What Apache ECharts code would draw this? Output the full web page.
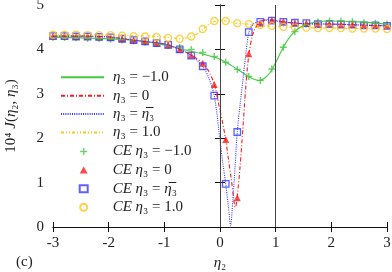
<!DOCTYPE html>
<html>
<head>
<meta charset="utf-8">
<script src="https://cdn.jsdelivr.net/npm/echarts@6/dist/echarts.min.js"></script>
<style>html,body{margin:0;padding:0;background:#fff}#c{width:392px;height:272px}</style>
</head>
<body>
<div id="c"></div>
<script>
// CE sample positions (eta2)
const ceX = [-3, -2.793, -2.586, -2.379, -2.172, -1.966, -1.759, -1.552, -1.345, -1.138, -0.931, -0.724, -0.517, -0.310, -0.103, 0.103, 0.310, 0.517, 0.724, 0.931, 1.138, 1.345, 1.552, 1.759, 1.966, 2.172, 2.379, 2.586, 2.793, 3];
const ceGreen  = [4.27, 4.27, 4.26, 4.25, 4.24, 4.23, 4.21, 4.19, 4.16, 4.13, 4.09, 4.04, 4.00, 3.93, 3.84, 3.71, 3.55, 3.39, 3.30, 3.56, 4.05, 4.40, 4.57, 4.62, 4.64, 4.64, 4.62, 4.60, 4.59, 4.57];
const ceRed    = [4.30, 4.30, 4.29, 4.29, 4.28, 4.27, 4.24, 4.21, 4.18, 4.14, 4.10, 4.00, 3.87, 3.69, 3.21, 1.97, 0.66, 3.90, 4.59, 4.66, 4.63, 4.60, 4.59, 4.57, 4.57, 4.56, 4.56, 4.54, 4.54, 4.53];
const ceBlue   = [4.30, 4.30, 4.29, 4.29, 4.28, 4.27, 4.24, 4.21, 4.18, 4.14, 4.10, 4.00, 3.86, 3.62, 2.96, 0.97, 2.14, 4.39, 4.62, 4.65, 4.62, 4.60, 4.59, 4.57, 4.57, 4.56, 4.56, 4.54, 4.54, 4.53];
const ceYellow = [4.33, 4.33, 4.33, 4.32, 4.32, 4.32, 4.31, 4.30, 4.29, 4.28, 4.26, 4.24, 4.29, 4.46, 4.64, 4.64, 4.59, 4.57, 4.55, 4.53, 4.51, 4.50, 4.49, 4.48, 4.48, 4.48, 4.47, 4.47, 4.47, 4.46];

// theory curves
const greenX = [-3, -2.5, -2, -1.5, -1, -0.6, -0.3, 0, 0.2, 0.4, 0.55, 0.7, 0.8, 0.9, 1.0, 1.1, 1.2, 1.3, 1.4, 1.5, 1.7, 2, 2.5, 3];
const greenY = [4.27, 4.26, 4.24, 4.20, 4.10, 3.98, 3.89, 3.78, 3.64, 3.48, 3.36, 3.30, 3.35, 3.48, 3.70, 3.96, 4.18, 4.35, 4.46, 4.54, 4.61, 4.64, 4.62, 4.57];
const redX = [-3, -2.5, -2, -1.5, -1, -0.7, -0.5, -0.3, -0.2, -0.1, 0, 0.05, 0.1, 0.15, 0.2, 0.25, 0.27, 0.29, 0.31, 0.36, 0.41, 0.46, 0.52, 0.6, 0.7, 0.8, 0.9, 1.0, 1.2, 1.5, 2, 2.5, 3];
const redY = [4.30, 4.30, 4.28, 4.20, 4.12, 3.99, 3.86, 3.68, 3.50, 3.21, 2.62, 2.33, 1.98, 1.54, 1.10, 0.60, 0.44, 0.50, 0.68, 1.35, 2.20, 3.10, 3.90, 4.38, 4.60, 4.66, 4.67, 4.65, 4.61, 4.58, 4.57, 4.55, 4.53];
const blueX = [-3, -2.5, -2, -1.5, -1, -0.7, -0.5, -0.3, -0.2, -0.1, 0, 0.05, 0.1, 0.15, 0.19, 0.23, 0.27, 0.31, 0.36, 0.41, 0.46, 0.52, 0.6, 0.7, 0.8, 0.9, 1.0, 1.2, 1.5, 2, 2.5, 3];
const blueY = [4.30, 4.30, 4.28, 4.20, 4.12, 3.99, 3.85, 3.60, 3.35, 2.94, 1.95, 1.45, 1.00, 0.47, 0.03, 0.60, 1.35, 2.14, 2.75, 3.30, 3.85, 4.39, 4.57, 4.63, 4.66, 4.66, 4.64, 4.61, 4.58, 4.57, 4.55, 4.53];
const yellowX = [-3, -2.5, -2, -1.5, -1, -0.7, -0.5, -0.4, -0.3, -0.2, -0.1, 0, 0.1, 0.2, 0.3, 0.5, 0.7, 1.0, 1.5, 2, 2.5, 3];
const yellowY = [4.33, 4.33, 4.32, 4.31, 4.28, 4.24, 4.30, 4.36, 4.46, 4.56, 4.63, 4.66, 4.64, 4.61, 4.59, 4.57, 4.53, 4.52, 4.49, 4.48, 4.47, 4.46];

const xTicks = [-3, -2, -1, 0, 1, 2, 3];
const yTicks = [0, 1, 2, 3, 4, 5];
const vLines = [0, 1];

const C_GREEN = '#44c844', C_RED = '#ff1a1a', C_BLUE = '#3838ff', C_YEL = '#ffc61a';
const FONT = 'Liberation Serif';

const lineNames = ['l1','l2','l3','l4'];
const ceNames = ['c1','c2','c3','c4'];
const legendText = {
  l1: '{i|η}₃ = −1.0',
  l2: '{i|η}₃ = 0',
  l3: '{i|η}₃ = {i|η\u0305}₃',
  l4: '{i|η}₃ = 1.0',
  c1: '{i|CE η}₃ = −1.0',
  c2: '{i|CE η}₃ = 0',
  c3: '{i|CE η}₃ = {i|η\u0305}₃',
  c4: '{i|CE η}₃ = 1.0'
};
const zip = (xs, ys) => xs.map((x, i) => [x, ys[i]]);
const plus = 'path://M4,0h2v4h4v2h-4v4h-2v-4h-4v-2h4z';

const chart = echarts.init(document.getElementById('c'), null, {renderer: 'canvas'});
const axisCommon = {
  type: 'value',
  axisLine: {show: true, lineStyle: {color: '#111', width: 1}},
  axisTick: {show: true, inside: true, length: 5, lineStyle: {color: '#111'}},
  splitLine: {show: false}
};
const legText = {fontFamily: FONT, fontSize: 15, color: '#222', lineHeight: 16,
  rich: {i: {fontStyle: 'italic', fontFamily: FONT, fontSize: 15, lineHeight: 16}}};
chart.setOption({
  animation: false,
  backgroundColor: '#fff',
  grid: {left: 53, right: 5, top: 5, bottom: 45, containLabel: false, outerBoundsMode: 'none'},
  xAxis: [
    Object.assign({}, axisCommon, {min: xTicks[0], max: xTicks[xTicks.length-1], interval: 1, position: 'bottom',
      name: '{i|η}₂', nameLocation: 'middle', nameGap: 29,
      nameTextStyle: {fontFamily: FONT, fontSize: 15, color: '#222', rich: {i: {fontStyle: 'italic', fontFamily: FONT, fontSize: 15}}},
      axisLabel: {margin: 9, fontFamily: FONT, fontSize: 15, color: '#222'}}),
    Object.assign({}, axisCommon, {min: xTicks[0], max: xTicks[xTicks.length-1], interval: 1, position: 'top', axisLabel: {show: false}})
  ],
  yAxis: [
    Object.assign({}, axisCommon, {min: yTicks[0], max: yTicks[yTicks.length-1], interval: 1, position: 'left',
      name: '10⁴ {i|J}({i|η}₂, {i|η}₃)', nameLocation: 'middle', nameGap: 34, nameRotate: 90,
      nameTextStyle: {fontFamily: FONT, fontSize: 15, color: '#222', rich: {i: {fontStyle: 'italic', fontFamily: FONT, fontSize: 15}}},
      axisLabel: {margin: 9, fontFamily: FONT, fontSize: 15, color: '#222'}}),
    Object.assign({}, axisCommon, {min: yTicks[0], max: yTicks[yTicks.length-1], interval: 1, position: 'right', axisLabel: {show: false}})
  ],
  legend: [
    {orient: 'vertical', left: 55, top: 64.3, itemWidth: 43, itemHeight: 7, itemGap: 2.4,
      data: lineNames.map(n => ({name: n, itemStyle: {opacity: 0}})),
      formatter: n => legendText[n],
      textStyle: Object.assign({padding: [0,0,0,4]}, legText)},
    {orient: 'vertical', left: 73.7, top: 138.5, itemWidth: 8, itemHeight: 7, itemGap: 2.6,
      data: ceNames,
      formatter: n => legendText[n],
      textStyle: Object.assign({padding: [0,0,0,20]}, legText)}
  ],
  graphic: [{type: 'text', left: 16, top: 255, style: {text: '(c)', font: '15px "Liberation Serif"', fill: '#222'}}],
  series: [
    {name: 'l1', type: 'line', data: zip(greenX, greenY), symbol: 'none', smooth: 0.3,
      lineStyle: {color: C_GREEN, width: 1.1, type: 'solid'}, itemStyle: {color: C_GREEN},
      markLine: {silent: true, symbol: ['none','none'], label: {show: false},
        lineStyle: {color: '#444', type: 'solid', width: 1}, data: vLines.map(v => ({xAxis: v}))}},
    {name: 'l2', type: 'line', data: zip(redX, redY), symbol: 'none', smooth: 0.3,
      lineStyle: {color: C_RED, width: 1.1, type: [4, 2, 1, 2]}, itemStyle: {color: C_RED}},
    {name: 'l3', type: 'line', data: zip(blueX, blueY), symbol: 'none', smooth: 0.3,
      lineStyle: {color: C_BLUE, width: 1.1, type: [1, 1.2]}, itemStyle: {color: C_BLUE}},
    {name: 'l4', type: 'line', data: zip(yellowX, yellowY), symbol: 'none', smooth: 0.3,
      lineStyle: {color: C_YEL, width: 1.1, type: [3, 2, 1, 2, 1, 2]}, itemStyle: {color: C_YEL}},
    {name: 'c1', type: 'scatter', data: zip(ceX, ceGreen), symbol: plus, symbolSize: 7,
      itemStyle: {color: C_GREEN}},
    {name: 'c2', type: 'scatter', data: zip(ceX, ceRed), symbol: 'triangle', symbolSize: 7,
      itemStyle: {color: C_RED}},
    {name: 'c3', type: 'scatter', data: zip(ceX, ceBlue), symbol: 'rect', symbolSize: 6.5,
      itemStyle: {color: 'rgba(255,255,255,0)', borderColor: C_BLUE, borderWidth: 1.3}},
    {name: 'c4', type: 'scatter', data: zip(ceX, ceYellow), symbol: 'circle', symbolSize: 7,
      itemStyle: {color: 'rgba(255,255,255,0)', borderColor: C_YEL, borderWidth: 1.3}}
  ]
});
</script>
</body>
</html>
